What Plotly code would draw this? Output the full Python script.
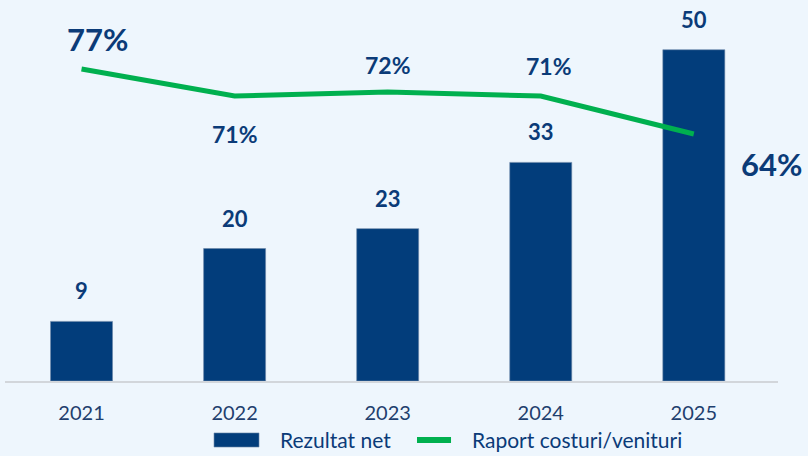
import plotly.graph_objects as go

years = ["2021", "2022", "2023", "2024", "2025"]
net_result = [9, 20, 23, 33, 50]
cost_income = [77.0, 71.6, 72.4, 71.6, 64.0]
cost_income_labels = ["77%", "71%", "72%", "71%", "64%"]
series_names = ["Rezultat net", "Raport costuri/venituri"]

NAVY = "#023D7B"
TEXT = "#0B3B78"
GREEN = "#00B04F"
BG = "#EEF6FD"
FONT = "Lato"

fig = go.Figure()
fig.add_trace(go.Bar(
    x=years, y=net_result, name=series_names[0],
    marker=dict(color=NAVY, line=dict(color="#6C87A8", width=0.6)),
    width=0.405, yaxis="y",
))
fig.add_trace(go.Scatter(
    x=years, y=cost_income, name=series_names[1],
    mode="lines", line=dict(color=GREEN, width=5), yaxis="y2",
))

# bar value labels (x given as category index)
for i, v in enumerate(net_result):
    fig.add_annotation(x=i, y=v, xref="x", yref="y", text=f"<b>{v}</b>", showarrow=False,
                       yanchor="bottom", yshift=15,
                       font=dict(family=FONT, size=22, color=TEXT))

# ratio labels: (yshift, xshift, size)
label_pos = [(30, 16, 31), (-38, 0, 23), (27, 0, 23), (30, 8, 23), (-30, 78, 31)]
for i, (v, t, (ys, xs, sz)) in enumerate(zip(cost_income, cost_income_labels, label_pos)):
    fig.add_annotation(x=i, y=v, xref="x", yref="y2", text=f"<b>{t}</b>", showarrow=False,
                       yanchor="middle", yshift=ys, xshift=xs,
                       font=dict(family=FONT, size=sz, color=TEXT))

# custom legend (paper coordinates)
fig.add_shape(type="rect", xref="paper", yref="paper", x0=0.2704, x1=0.3286,
              y0=-0.178, y1=-0.140, fillcolor=NAVY, line=dict(color="#6C87A8", width=0.6))
fig.add_shape(type="line", xref="paper", yref="paper", x0=0.533, x1=0.577,
              y0=-0.159, y1=-0.159, line=dict(color=GREEN, width=6))
for xpos, name in zip([0.353, 0.6016], series_names):
    fig.add_annotation(x=xpos, y=-0.159, xref="paper", yref="paper", text=name,
                       showarrow=False, xanchor="left", yanchor="middle",
                       font=dict(family=FONT, size=21, color=TEXT))

fig.update_layout(
    width=808, height=456,
    margin=dict(l=5, r=30, t=10, b=75),
    paper_bgcolor=BG, plot_bgcolor=BG,
    font=dict(family=FONT, color=TEXT),
    showlegend=False,
    xaxis=dict(type="category", range=[-0.5, 4.55], showgrid=False,
               showline=True, linecolor="#D2D6DB", linewidth=2,
               ticks="", tickfont=dict(family=FONT, size=20, color="#1F3F6E"),
               ticklabelstandoff=13),
    yaxis=dict(range=[0, 56.0], visible=False, showgrid=False),
    yaxis2=dict(range=[14.6, 88.8], overlaying="y", visible=False, showgrid=False),
)

fig.write_html("out.html", config={"displayModeBar": False},
               post_script="document.body.style.margin='0';")
